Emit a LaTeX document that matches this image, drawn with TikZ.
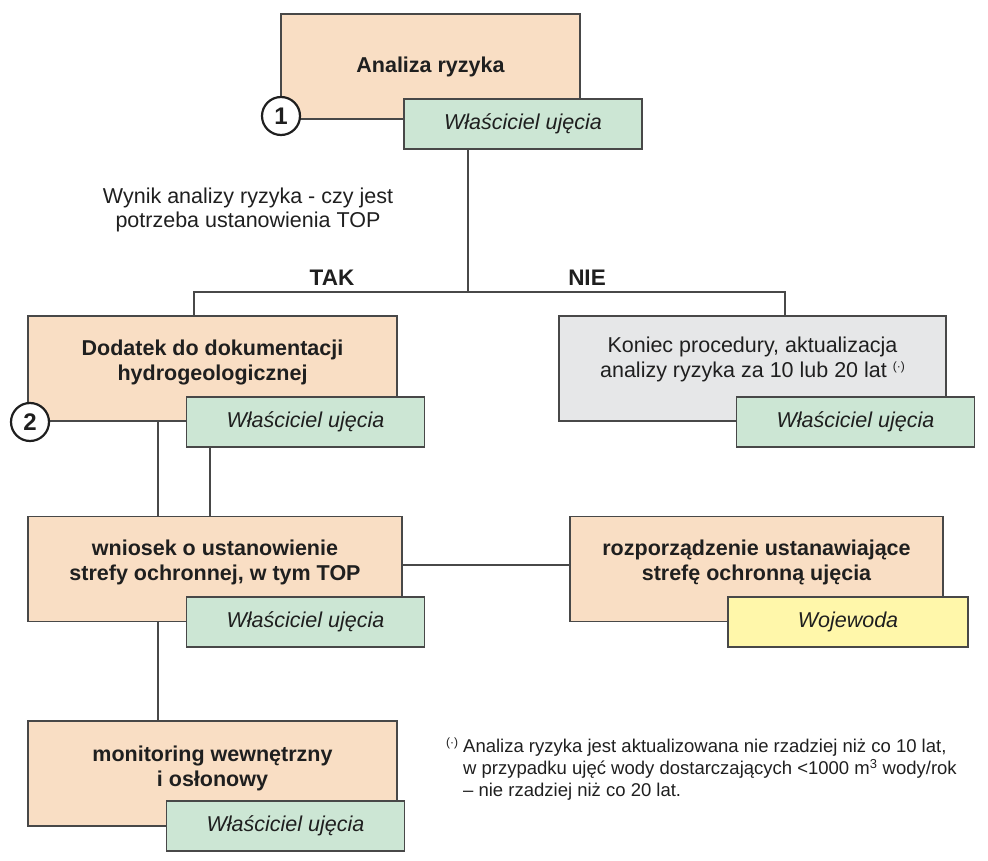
\documentclass[tikz,border=0pt]{standalone}
\usepackage{fontspec}
\setmainfont{Liberation Sans}
\definecolor{peach}{RGB}{249,222,196}
\definecolor{mint}{RGB}{204,230,212}
\definecolor{ashgray}{RGB}{230,231,232}
\definecolor{lemon}{RGB}{255,247,170}
\definecolor{edge}{RGB}{72,72,72}
\newcommand{\boxfont}{\fontsize{21.5}{24.5}\selectfont}
\newcommand{\fnmark}{\raisebox{0.6ex}{\fontsize{12}{12}\selectfont(·)}}
\begin{document}
\begin{tikzpicture}[x=1pt, y=-1pt,
	every node/.style={text=black!88, font=\boxfont},
	task/.style={draw=edge, line width=1.3pt, fill=peach, minimum height=105pt, align=center, font=\boxfont\bfseries},
	twoline/.style={text height=#1, text depth=0pt},
	owner/.style={draw=edge, line width=1.3pt, fill=mint, minimum width=238pt, minimum height=50pt, font=\boxfont\itshape},
	badge/.style={circle, draw=black!88, line width=2.2pt, fill=white, minimum size=38pt, inner sep=0pt, font=\fontsize{24}{24}\selectfont\bfseries},
	link/.style={draw=edge, line width=1.3pt}]
		\useasboundingbox (0,0) rectangle (988,861);
		% main boxes
		\node[task, minimum width=299pt] (risk) at (430.5,66.5) {Analiza ryzyka};
		\node[task, twoline=23pt, minimum width=369pt] (addendum) at (212.5,368.5) {Dodatek do dokumentacji\\hydrogeologicznej};
		\node[task, twoline=17pt, fill=ashgray, font=\boxfont, minimum width=387pt] (finish) at (752.5,368.5) {Koniec procedury, aktualizacja\\analizy ryzyka za 10 lub 20 lat \fnmark};
		\node[task, twoline=22pt, minimum width=374pt] (request) at (215,569) {wniosek o ustanowienie\\strefy ochronnej, w tym TOP};
		\node[task, twoline=22pt, minimum width=373pt] (decree) at (756.5,569) {rozporządzenie ustanawiające\\strefę ochronną ujęcia};
		\node[task, twoline=25pt, minimum width=369pt] (monitor) at (212.5,773.5) {monitoring wewnętrzny\\i osłonowy};
		% connectors
		\coordinate (fork) at (468,292);
		\coordinate (forkL) at (194,292);
		\coordinate (forkR) at (785,292);
		\coordinate (trunk) at (158,0);
		\coordinate (branch) at (210,0);
		\draw[link] (risk.south -| fork) -- (fork);
		\draw[link] (addendum.north -| forkL) |- (forkR) -- (finish.north -| forkR);
		\draw[link] (addendum.south -| trunk) -- (request.north -| trunk);
		\draw[link] (addendum.south -| branch) -- (request.north -| branch);
		\draw[link] (request.south -| trunk) -- (monitor.north -| trunk);
		\draw[link] ([yshift=4pt]request.east) -- ([yshift=4pt]decree.west);
		% who does it
		\node[owner] (owner1) at (523,124) {Właściciel ujęcia};
		\node[owner] (owner2) at (305.5,422) {Właściciel ujęcia};
		\node[owner] (owner3) at (855.5,422) {Właściciel ujęcia};
		\node[owner] (owner4) at (305.5,622) {Właściciel ujęcia};
		\node[owner, fill=lemon, minimum width=240pt] (governor) at (848,622) {Wojewoda};
		\node[owner] (owner5) at (285.5,826) {Właściciel ujęcia};
		\node[badge] (num1) at (281,116) {1};
		\node[badge] (num2) at (30,422) {2};
		% labels
		\node[align=center] (question) at (248,210) {Wynik analizy ryzyka - czy jest\\potrzeba ustanowienia TOP};
		\node[font=\fontsize{22.5}{24}\selectfont\bfseries] (tak) at (332,278) {TAK};
		\node[font=\fontsize{22.5}{24}\selectfont\bfseries] (nie) at (587,278) {NIE};
		\node[anchor=west, inner sep=0pt, font=\fontsize{18.5}{22}\selectfont] (note) at (446,770) {\begin{tabular}{@{}l@{\hspace{5pt}}l@{}}
			\fnmark & Analiza ryzyka jest aktualizowana nie rzadziej niż co 10 lat,\\
			& w przypadku ujęć wody dostarczających <1000 m\textsuperscript{3} wody/rok\\
			& – nie rzadziej niż co 20 lat.
		\end{tabular}};
\end{tikzpicture}
\end{document}
